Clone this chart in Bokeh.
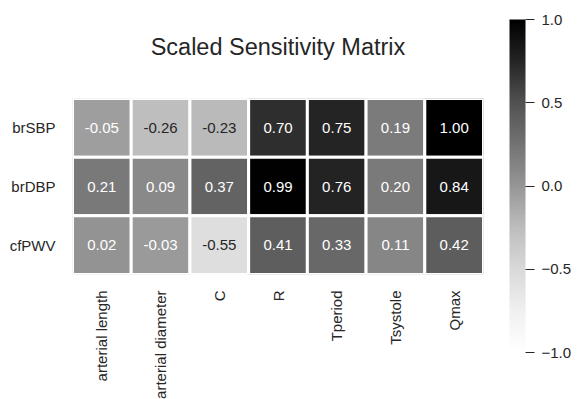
import math
from bokeh.plotting import figure
from bokeh.models import (ColumnDataSource, ColorBar, LinearColorMapper,
                          FixedTicker, CustomJSTickFormatter, LinearAxis)
from bokeh.transform import transform
from bokeh.embed import file_html
from bokeh.resources import INLINE
from bokeh.core.properties import value

# ---------------- data ----------------
params = ["arterial length", "arterial diameter", "C", "R", "Tperiod", "Tsystole", "Qmax"]
outputs = ["brSBP", "brDBP", "cfPWV"]
brSBP = [-0.05, -0.26, -0.23, 0.70, 0.75, 0.19, 1.00]
brDBP = [0.21, 0.09, 0.37, 0.99, 0.76, 0.20, 0.84]
cfPWV = [0.02, -0.03, -0.55, 0.41, 0.33, 0.11, 0.42]
cbar_ticks = [-1.0, -0.5, 0.0, 0.5, 1.0]
title_text = "Scaled Sensitivity Matrix"

# ---------------- colours (matplotlib "Greys") ----------------
GREYS = [1.0, 0.9411764705882353, 0.8509803921568627, 0.7411764705882353,
         0.5882352941176471, 0.45098039215686275, 0.3215686274509804,
         0.1450980392156863, 0.0]


def greys(t):
    t = min(max(t, 0.0), 1.0) * 8
    i = min(int(t), 7)
    f = t - i
    return GREYS[i] + (GREYS[i + 1] - GREYS[i]) * f


palette = []
for k in range(256):
    g = round(greys(k / 255) * 255)
    palette.append("#%02x%02x%02x" % (g, g, g))

mapper = LinearColorMapper(palette=palette, low=-1.0, high=1.0)

DARK = "#262626"
FONT = "Liberation Sans"


def text_color(v):
    g = greys((v + 1) / 2)
    lin = g / 12.92 if g <= 0.03928 else ((g + 0.055) / 1.055) ** 2.4
    return DARK if lin > 0.408 else "#ffffff"


rows = {"brSBP": brSBP, "brDBP": brDBP, "cfPWV": cfPWV}
xs, ys, vs, labels, tcols = [], [], [], [], []
for name in outputs:
    for p, v in zip(params, rows[name]):
        xs.append(p)
        ys.append(name)
        vs.append(v)
        labels.append("%.2f" % v)
        tcols.append(text_color(v))

src = ColumnDataSource(dict(x=xs, y=ys, v=vs, label=labels, tcolor=tcols))

# ---------------- heatmap ----------------
FW, FH = 411, 176
p = figure(x_range=params, y_range=outputs[::-1],
           frame_width=FW, frame_height=FH,
           min_border_left=72, min_border_right=94,
           min_border_top=98, min_border_bottom=125,
           toolbar_location=None, output_backend="svg")

p.rect(x="x", y="y", width=1, height=1, source=src,
       fill_color=transform("v", mapper), line_color="white", line_width=3)
p.text(x="x", y="y", text="label", source=src, text_color="tcolor",
       text_align="center", text_baseline="middle",
       text_font=value(FONT), text_font_size="15px")

bottom_axis = p.below[0]
left_axis = p.left[0]
for ax in (bottom_axis, left_axis):
    ax.axis_line_color = None
    ax.major_tick_line_color = None
    ax.minor_tick_line_color = None
    ax.major_tick_in = 0
    ax.major_tick_out = 0
    ax.major_label_text_font = FONT
    ax.major_label_text_font_size = "15px"
    ax.major_label_text_color = DARK
bottom_axis.major_label_orientation = math.pi / 2
bottom_axis.major_label_standoff = 16
left_axis.major_label_standoff = 17

# title drawn as the label of an otherwise empty top axis
top_axis = LinearAxis(ticker=FixedTicker(ticks=[]), axis_label=title_text,
                      axis_label_text_font=FONT, axis_label_text_font_size="23.5px",
                      axis_label_text_font_style="normal", axis_label_text_color=DARK,
                      axis_label_standoff=39,
                      axis_line_color=None, major_tick_line_color=None,
                      minor_tick_line_color=None, major_tick_in=0, major_tick_out=0,
                      major_label_text_font_size="0px")
p.add_layout(top_axis, "above")

p.grid.grid_line_color = None
p.outline_line_color = None

# ---------------- colour bar ----------------
cb = ColorBar(color_mapper=mapper, width=16, height=333, padding=0, margin=0,
              location=(437, -78),
              ticker=FixedTicker(ticks=cbar_ticks),
              formatter=CustomJSTickFormatter(code="return tick.toFixed(1).replace('-', '\u2212');"),
              major_tick_in=0, major_tick_out=9,
              major_tick_line_color=DARK, major_tick_line_width=1.2,
              label_standoff=7,
              major_label_text_font=FONT, major_label_text_font_size="15px",
              major_label_text_color=DARK,
              bar_line_color=None, border_line_color=None,
              background_fill_color=None)
p.add_layout(cb, "center")

open("out.html", "w").write(file_html(p, INLINE))
